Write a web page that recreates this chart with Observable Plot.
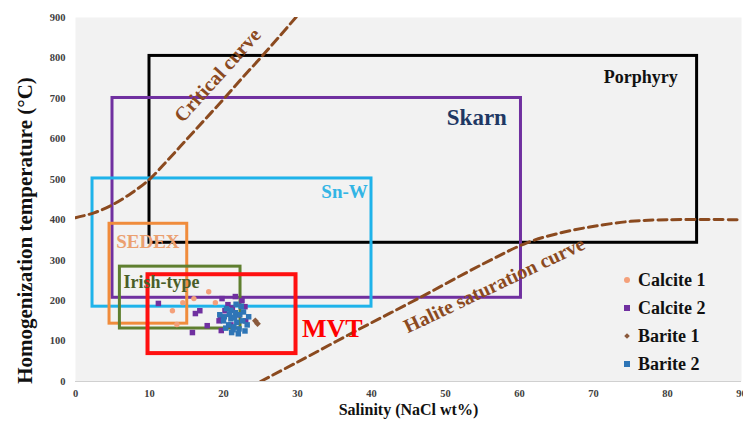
<!DOCTYPE html>
<html>
<head>
<meta charset="utf-8">
<script src="https://cdn.jsdelivr.net/npm/d3@7"></script>
<script src="https://cdn.jsdelivr.net/npm/@observablehq/plot@0.6"></script>
<style>
  html, body { margin: 0; padding: 0; background: #fff; }
  #wrap { position: relative; width: 743px; height: 423px; font-family: "Liberation Serif", "DejaVu Serif", serif; }
  #wrap svg, #wrap svg text { font-family: "Liberation Serif", "DejaVu Serif", serif !important; }
  #legend { position: absolute; left: 622px; top: 266px; font-weight: bold; font-size: 18px; color: #111; }
  #legend .row { display: flex; align-items: center; height: 28px; }
  #legend .sw { width: 10px; display: flex; justify-content: center; margin-right: 6px; }
</style>
</head>
<body>
<div id="wrap"></div>
<script>
// ---- data ----
const boxNames = ["Porphyry", "Skarn", "Sn-W", "SEDEX", "Irish-type", "MVT"];
const boxSalMin = [10, 5, 2.3, 4.6, 6, 9.8];
const boxSalMax = [84, 60.2, 40, 15.1, 22.3, 29.8];
const boxThMin = [343, 207, 185, 143, 131, 69];
const boxThMax = [805, 701, 502, 390, 284, 264];
const boxColors = ["#000000", "#7030a0", "#1fb3ea", "#f08c3c", "#5f7f2f", "#ff1010"];

const critSal = [0, 2.5, 5, 7.5, 10, 12.5, 15, 17.5, 20, 22.5, 25, 27.5, 30];
const critTh = [405, 417, 437, 465, 500, 548, 598, 648, 698, 750, 800, 852, 905];

const haliteSal = [25, 30, 38.5, 46.5, 55, 61, 65, 69.5, 75, 80, 90];
const haliteTh = [0, 48, 131, 207, 290, 343, 365, 382, 396, 400, 400];

const calcite1Sal = [13.1, 14.5, 16.0, 18.0, 18.9, 13.7];
const calcite1Th = [175, 195, 205, 222, 195, 141];

const calcite2Sal = [11.2, 16.2, 16.8, 17.8, 15.8, 19.8, 21.6, 22.5, 19.6, 19.7, 20.6, 21.2, 22.9, 20.2, 22.0, 23.0, 21.0, 19.4];
const calcite2Th = [193, 168, 175, 138, 121, 205, 210, 200, 158, 126, 190, 182, 185, 175, 165, 150, 140, 150];

const barite1Sal = [24.6, 24.3];
const barite1Th = [143, 150];

const barite2Sal = [20.4, 21.0, 21.6, 22.2, 20.1, 21.0, 22.6, 21.8, 20.7, 21.4, 22.1, 22.9, 21.1, 20.0, 22.4, 21.7, 20.8, 22.7, 23.2, 21.3, 20.3, 22.0, 23.4, 21.5, 19.5];
const barite2Th = [180, 176, 170, 165, 160, 155, 150, 146, 140, 135, 130, 125, 121, 150, 186, 191, 166, 172, 140, 128, 132, 118, 160, 158, 165];

const xTicks = [0, 10, 20, 30, 40, 50, 60, 70, 80, 90];
const yTicks = [0, 100, 200, 300, 400, 500, 600, 700, 800, 900];

// deposit-type label anchors (data units)
const labelText = ["Porphyry", "Skarn", "Sn-W", "SEDEX", "Irish-type", "MVT"];
const labelSal = [81.4, 58.3, 39.5, 5.5, 6.5, 30.6];
const labelTh = [753, 652, 468, 345, 246, 130];

const legendNames = ["Calcite 1", "Calcite 2", "Barite 1", "Barite 2"];
const legendColors = ["#f4a07a", "#7030a0", "#8b5a3c", "#2e75b6"];

// ---- build ----
const boxes = boxNames.map((n, i) => ({name: n, x1: boxSalMin[i], x2: boxSalMax[i], y1: boxThMin[i], y2: boxThMax[i], c: boxColors[i], w: n === "MVT" ? 4 : 3}));
const crit = critSal.map((s, i) => ({s, t: critTh[i]}));
const halite = haliteSal.map((s, i) => ({s, t: haliteTh[i]}));
const pts = (sal, th) => sal.map((s, i) => ({s, t: th[i]}));
const labels = labelText.map((t, i) => ({t, s: labelSal[i], th: labelTh[i]}));

const font = "Liberation Serif";
const brown = "#8b4a1f";
const lab = (name) => labels.filter(d => d.t === name);

const chart = Plot.plot({
  width: 743,
  height: 423,
  marginLeft: 75,
  marginRight: 2,
  marginTop: 17,
  marginBottom: 42,
  style: {fontFamily: font, background: "transparent"},
  x: {domain: [0, 90]},
  y: {domain: [0, 900]},
  marks: [
    Plot.frame({fill: "#f2f2f2", stroke: null}),
    Plot.ruleY([0], {stroke: "#d0d0d0", strokeWidth: 1}),
    Plot.axisX({ticks: xTicks, tickSize: 0, tickPadding: 8, label: null, fontSize: 10.5, fontWeight: "bold", fill: "#404040"}),
    Plot.axisY({ticks: yTicks, tickSize: 0, tickPadding: 10, label: null, fontSize: 10.5, fontWeight: "bold", fill: "#404040"}),
    Plot.rect(boxes, {x1: "x1", x2: "x2", y1: "y1", y2: "y2", fill: "none", stroke: "c", strokeWidth: "w"}),
    Plot.line(crit, {x: "s", y: "t", stroke: brown, strokeWidth: 3, strokeDasharray: "9,5", curve: "catmull-rom", clip: true}),
    Plot.line(halite, {x: "s", y: "t", stroke: brown, strokeWidth: 3, strokeDasharray: "9,5", curve: "catmull-rom", clip: true}),
    Plot.dot(pts(calcite2Sal, calcite2Th), {x: "s", y: "t", symbol: "square", r: 3.1, fill: "#7030a0"}),
    Plot.dot(pts(barite2Sal, barite2Th), {x: "s", y: "t", symbol: "square", r: 3.1, fill: "#2e75b6"}),
    Plot.dot(pts(calcite1Sal, calcite1Th), {x: "s", y: "t", symbol: "circle", r: 2.7, fill: "#f4a07a"}),
    Plot.dot(pts(barite1Sal, barite1Th), {x: "s", y: "t", symbol: "diamond2", r: 3, fill: "#8b5a3c"}),
    Plot.text(lab("Porphyry"), {x: "s", y: "th", text: "t", textAnchor: "end", fontSize: 18, fontWeight: "bold", fill: "#111"}),
    Plot.text(lab("Skarn"), {x: "s", y: "th", text: "t", textAnchor: "end", fontSize: 23, fontWeight: "bold", fill: "#1f3864"}),
    Plot.text(lab("Sn-W"), {x: "s", y: "th", text: "t", textAnchor: "end", fontSize: 19, fontWeight: "bold", fill: "#33b5e5"}),
    Plot.text(lab("SEDEX"), {x: "s", y: "th", text: "t", textAnchor: "start", fontSize: 19, fontWeight: "bold", fill: "#eba070"}),
    Plot.text(lab("Irish-type"), {x: "s", y: "th", text: "t", textAnchor: "start", fontSize: 18, fontWeight: "bold", fill: "#4a5e28"}),
    Plot.text(lab("MVT"), {x: "s", y: "th", text: "t", textAnchor: "start", fontSize: 26, fontWeight: "bold", fill: "#ff0000"}),
    Plot.text([{s: 19.2, t: 757}], {x: "s", y: "t", text: () => "Critical curve", rotate: -48, fontSize: 20, fontWeight: "bold", fill: brown}),
    Plot.text([{s: 56.6, t: 238}], {x: "s", y: "t", text: () => "Halite saturation curve", rotate: -25.5, fontSize: 20, fontWeight: "bold", fill: brown}),
    Plot.text(["Homogenization temperature (°C)"], {frameAnchor: "left", textAnchor: "middle", dx: -50, dy: 31, rotate: -90, fontSize: 21, fontWeight: "bold", fill: "#111"}),
    Plot.text(["Salinity (NaCl wt%)"], {frameAnchor: "bottom", textAnchor: "middle", dy: 33, fontSize: 16, fontWeight: "bold", fill: "#111"})
  ]
});

const wrap = document.getElementById("wrap");
wrap.appendChild(chart);

const legend = document.createElement("div");
legend.id = "legend";
const shapes = ["circle", "square", "diamond", "square"];
legendNames.forEach((n, i) => {
  const row = document.createElement("div");
  row.className = "row";
  const sw = document.createElement("div");
  sw.className = "sw";
  const m = document.createElement("div");
  m.style.background = legendColors[i];
  if (shapes[i] === "circle") { m.style.width = "6px"; m.style.height = "6px"; m.style.borderRadius = "50%"; }
  else if (shapes[i] === "diamond") { m.style.width = "4px"; m.style.height = "4px"; m.style.transform = "rotate(45deg)"; }
  else { m.style.width = "6px"; m.style.height = "6px"; }
  sw.appendChild(m);
  const t = document.createElement("span");
  t.textContent = n;
  row.appendChild(sw);
  row.appendChild(t);
  legend.appendChild(row);
});
wrap.appendChild(legend);
</script>
</body>
</html>
